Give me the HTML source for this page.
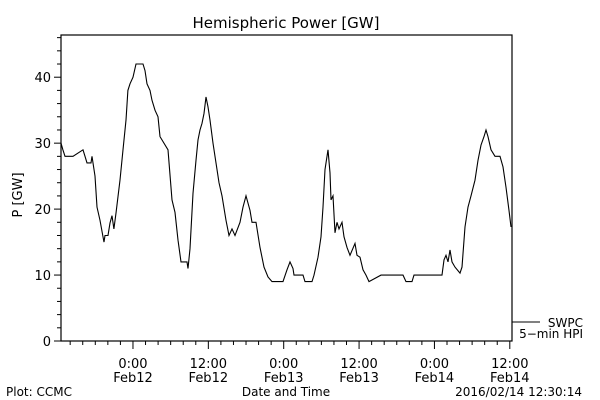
<!DOCTYPE html>
<html><head><meta charset="utf-8"><style>
body{margin:0;background:#fff}
svg{display:block;font-family:"DejaVu Sans","Liberation Sans",sans-serif}
</style></head><body>
<svg id="chart" width="600" height="400" viewBox="0 0 600 400">
<rect width="600" height="400" fill="#fff"/>
<text x="286" y="28" font-size="15" text-anchor="middle">Hemispheric Power [GW]</text>
<text transform="translate(22,195) rotate(-90)" font-size="13" text-anchor="middle">P [GW]</text>
<text x="286" y="396" font-size="12" text-anchor="middle">Date and Time</text>
<text x="6" y="396" font-size="12">Plot: CCMC</text>
<text x="582" y="396" font-size="12" text-anchor="end">2016/02/14 12:30:14</text>
<g id="axes"></g>
<g id="series"></g>
<line x1="512" y1="322" x2="540" y2="322" stroke="#000"/>
<text x="583" y="327" font-size="12" text-anchor="end">SWPC</text>
<text x="583" y="338" font-size="12" text-anchor="end">5−min HPI</text>
</svg>
<script>
const hours=[-11.46,-11.15,-10.83,-9.55,-7.96,-7.64,-7.32,-6.69,-6.53,-6.37,-6.05,-5.73,-5.25,-4.78,-4.62,-4.46,-3.98,-3.66,-3.34,-3.03,-2.71,-2.07,-1.59,-1.11,-0.80,-0.48,0,0.48,1.59,1.91,2.23,2.71,3.03,3.50,3.98,4.30,5.57,6.21,6.69,7.17,7.64,7.80,8.60,8.76,9.08,9.55,10.03,10.35,10.67,10.99,11.31,11.62,11.94,12.26,12.74,13.22,13.69,14.17,14.81,15.29,15.76,16.24,17.04,17.52,18.0,18.63,18.95,19.59,20.22,20.86,21.50,22.13,23.89,24.52,25.0,25.48,25.64,27.07,27.39,28.50,28.82,29.46,29.94,30.25,30.57,31.05,31.37,31.53,31.85,32.17,32.48,32.80,33.28,33.60,34.08,34.55,35.35,35.67,36.15,36.62,37.10,37.58,39.49,42.99,43.47,44.43,44.75,49.20,49.52,49.84,50.16,50.48,50.80,51.27,52.07,52.39,52.87,53.34,53.82,54.46,54.94,55.41,55.89,56.21,56.53,57.01,57.64,58.44,58.92,59.39,59.87,60.19];
const power=[30,29,28,28,29,28,27,27,28,27,25,20.3,18.3,15.8,15,16,16,17.9,19,17,19.4,24.4,29,33.5,38,39,40,42,42,41,39,38,36.5,35,34,31,29,21.4,19.5,15.3,12,12,12,11,14,22.4,27.4,30.5,32,33,34.5,37,35.5,33.5,30,27,24,22,18.3,16,17,16,18,20.3,22,19.8,18,18,14.2,11.2,9.7,9,9,10.8,12,11,10,10,9,9,10,12.7,15.8,20.3,26,29,25.5,21.4,22,16.4,18,17,18,15.8,14.2,13,14.8,13,12.7,10.8,10,9,10,10,9,9,10,10,12.3,13,12,13.8,12,11.2,10.3,11.2,17.3,20.3,22,24.4,27.4,29.7,31,32,31,29,28,28,26.4,23.3,19.8,17.3];
const yTickLabels=[0,10,20,30,40];
const xTickHours=[0,12,24,36,48,60];
const xTickTimes=["0:00","12:00","0:00","12:00","0:00","12:00"];
const xTickDates=["Feb12","Feb12","Feb13","Feb13","Feb14","Feb14"];
const X0=61,X1=512,Y0=341,Y1=35,HMIN=-11.46,HMAX=60.35,VMIN=0,VMAX=46.4;
const ns="http://www.w3.org/2000/svg";
const sx=h=>X0+(h-HMIN)/(HMAX-HMIN)*(X1-X0);
const sy=v=>Y0-(v-VMIN)/(VMAX-VMIN)*(Y0-Y1);
const ax=document.getElementById('axes');
function mk(tag,attrs,parent){const e=document.createElementNS(ns,tag);for(const k in attrs)e.setAttribute(k,attrs[k]);parent.appendChild(e);return e;}
const frame=mk('rect',{x:X0,y:Y1,width:X1-X0,height:Y0-Y1,fill:'none',stroke:'#000','stroke-width':1.2},ax);


for(let v=0;v<=46;v+=2){
  const major=v%10===0;
  const t=mk('line',{x1:X0-(major?7:4),x2:X0,y1:sy(v),y2:sy(v),stroke:'#000'},ax);
  
  
}
yTickLabels.forEach(v=>{
  const t=mk('text',{x:X0-10,y:sy(v)+5,'font-size':13,'text-anchor':'end'},ax);
  t.textContent=v;
  
  
});
for(let h=-10;h<=60;h+=2){
  const major=h%12===0;
  const t=mk('line',{x1:sx(h),x2:sx(h),y1:Y0,y2:Y0+(major?8:4),stroke:'#000'},ax);
  
  
}
xTickHours.forEach((h,i)=>{
  const a=mk('text',{x:sx(h),y:368,'font-size':13,'text-anchor':'middle'},ax);
  a.textContent=xTickTimes[i];
  
  
  const b=mk('text',{x:sx(h),y:382,'font-size':13,'text-anchor':'middle'},ax);
  b.textContent=xTickDates[i];
  
  
});
const pts=hours.map((h,i)=>sx(h).toFixed(1)+','+sy(power[i]).toFixed(1)).join(' ');
const line=mk('polyline',{points:pts,fill:'none',stroke:'#000','stroke-width':1.1},document.getElementById('series'));


</script>
</body></html>
